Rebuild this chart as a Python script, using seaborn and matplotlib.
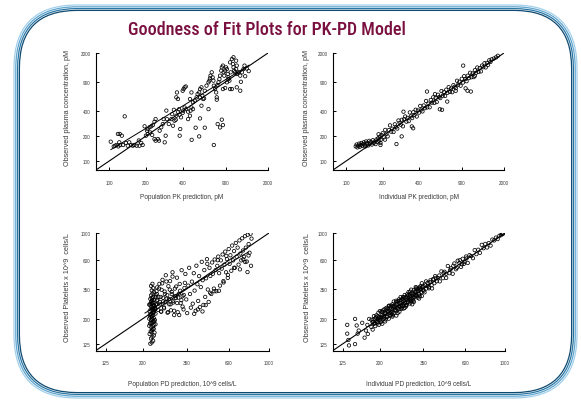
import matplotlib
matplotlib.use("Agg")
import matplotlib.pyplot as plt
from matplotlib.patches import FancyBboxPatch
from matplotlib.ticker import FixedLocator, FixedFormatter, NullLocator
import seaborn as sns
import pandas as pd

sns.set_style("ticks")
plt.rcParams["font.family"] = ["Liberation Sans", "DejaVu Sans"]

title = "Goodness of Fit Plots for PK-PD Model"
pk_ticks = [100, 200, 400, 900, 2000]
pd_ticks = [125, 200, 350, 600, 1000]
pk_limits = [78, 2000]
pd_limits = [110, 1000]

# (prediction, observed)
pk_pop_points = [
    (103,171),(109,150),(112,153),(115,156),(119,150),(121,168),(123,156),(118,212),(122,212),(127,202),
    (134,345),(130,156),(137,165),(142,153),(146,168),(151,156),(156,153),(161,156),(168,153),(177,153),
    (183,165),(188,156),(175,177),
    (195,262),(204,232),(207,243),(214,255),(221,262),(228,271),(235,297),(240,320),(235,184),(240,176),
    (251,184),(256,176),(200,202),(207,211),(217,221),(225,206),(259,232),(267,255),(275,279),(279,320),
    (290,202),(285,168),(294,405),(297,320),(308,279),(323,320),(333,266),(343,306),(355,351),(328,367),
    (339,414),(366,390),(377,362),(373,420),(388,336),(400,380),(415,442),(404,404),(427,422),(443,393),
    (459,351),(464,404),(472,442),(486,422),(378,202),(382,243),(351,314),(359,670),(366,558),(407,737),
    (415,772),(424,790),(443,320),
    (486,510),(503,532),(520,585),(530,641),(546,670),(555,737),(570,772),(580,613),(599,568),(607,702),
    (627,809),(651,887),(662,929),(669,990),(676,1067),(692,1171),(704,1017),(714,929),(720,809),(737,737),
    (752,670),(761,585),(770,825),(786,887),(800,970),(810,1067),(828,1225),(837,1344),(855,1410),(865,1171),
    (875,1067),(891,1225),(907,1344),(921,1283),(937,1118),(948,1017),(966,929),(978,1543),(1012,1691),
    (1032,1474),(1043,1344),(1057,1225),(1075,1171),(1096,1283),(1110,1118),(1146,1171),(1185,1067),
    (1223,1171),(1260,1283),(1284,1410),(1110,1410),(1096,1616),(1043,1776),(989,1171),(921,887),(948,970),
    (1340,1300),(1390,1210),(1200,900),(1300,1050),
    (474,180),(511,252),(546,198),(607,252),(720,156),(774,279),(810,254),(837,315),(855,271),(555,326),
    (570,464),(651,422),(761,548),(855,736),(891,758),(978,736),(1012,736),(1110,772),(1185,703),(400,702),
    (472,670),(459,558),(555,585),(589,558),(355,585),
]
pk_pop_trend_x = [103, 400, 1400]
pk_pop_trend_y = [137, 460, 1430]

pk_ind_points = [
    (120,150),(122,158),(124,146),(126,153),(128,162),(130,149),(132,156),(134,165),(136,152),(138,160),
    (140,168),(142,155),(144,150),(146,172),(148,160),(150,166),(152,154),(155,175),(158,162),(160,170),
    (163,158),(166,178),(169,165),(172,172),(175,160),(178,182),(181,170),(184,188),(187,175),(190,196),
    (193,180),(196,205),(185,210),(192,165),
    (200,216),(205,193),(210,237),(215,213),(220,198),(225,236),(230,269),(235,226),(240,245),(246,224),
    (252,277),(258,258),(264,246),(270,308),(276,287),(282,274),(288,314),(294,262),(300,318),(307,344),
    (314,298),(321,331),(328,302),(335,385),(342,345),(350,329),(358,387),(366,359),(374,415),(382,344),
    (390,406),(399,383),(408,461),(417,417),(426,396),(436,467),(446,433),(456,529),(466,443),(477,491),
    (488,444),(499,544),(510,505),(522,585),(534,502),(546,573),(558,513),(571,628),(584,590),(597,573),
    (611,697),(625,613),(639,677),(654,608),(669,723),(684,663),(700,777),(716,680),(732,747),(749,674),
    (766,820),(784,784),(802,754),(820,927),(839,831),(858,901),(878,808),(898,979),(918,881),(939,1052),
    (961,971),(983,914),(1005,1065),(1028,997),(1052,1157),(1076,1022),(1101,1134),(1126,1025),(1152,1244),
    (1178,1154),(1205,1338),(1233,1184),(1261,1311),(1290,1200),(1320,1412),(1350,1350),(1381,1505),
    (1413,1342),(1445,1517),(1478,1434),(1512,1633),(1547,1562),(1583,1678),(1650,1716),(1720,1772),
    (1780,1850),
    (192,156),(209,181),(287,198),(348,261),(357,248),(464,687),(592,420),(617,414),(681,520),(922,1410),
    (965,750),(1000,703),(1066,687),(297,393),(260,160),(540,640),(800,700),(1150,1060),
]

pd_pop_points = [
    (220,125),(224,128),(228,132),(222,138),(226,142),(230,146),(218,150),(232,154),(221,158),(225,162),
    (229,166),(223,170),(227,174),(231,178),(219,182),(224,186),(228,190),(222,194),(226,198),(230,202),
    (220,206),(224,210),(228,214),(222,218),(226,222),(230,226),(218,230),(232,234),(221,238),(225,242),
    (229,246),(223,250),(227,254),(231,258),(219,262),(224,266),(228,270),(222,275),(226,280),(230,285),
    (220,290),(224,295),(228,300),(222,310),(226,320),(230,330),(224,340),(228,355),(222,370),(226,385),
    (229,165),(221,185),(225,205),(229,225),(233,245),(221,265),(225,285),(233,195),(219,215),(227,235),
    (231,255),(217,175),(223,155),(235,300),(235,240),(217,260),(235,220),(217,200),(235,180),(231,190),
    (236,310),(238,335),(240,360),(236,260),(240,280),
    (237,262),(239,318),(241,285),(243,236),(246,352),(248,274),(251,301),(253,228),(256,388),(259,296),
    (262,247),(264,333),(267,272),(270,402),(273,311),(276,226),(279,289),(282,345),(285,262),(289,318),
    (292,441),(295,279),(298,232),(302,306),(306,366),(310,268),(314,297),(318,214),(322,338),(327,283),
    (332,251),(337,312),(342,392),
    (244,301),(247,385),(249,262),(252,229),(254,344),(257,415),(259,276),(262,243),(265,318),(268,452),
    (271,291),(274,224),(277,368),(280,262),(283,405),(286,234),(289,331),(292,478),(295,271),(298,214),
    (301,352),(305,295),(309,432),(312,226),(316,318),(320,384),(324,268),(328,497),(332,305),(336,238),
    (340,356),(344,463),(348,287),(352,222),(357,372),(361,520),(365,318),(369,246),(374,401),(378,265),
    (383,470),(387,339),(392,232),(396,541),(401,382),(405,279),(410,445),(414,248),(419,362),(424,582),
    (429,412),(433,259),(438,498),(443,301),(448,427),(453,612),(458,346),(463,274),(468,520),(473,446),
    (479,318),(484,575),(489,465),(495,352),(500,608),(506,498),(511,335),(517,540),(523,642),(529,470),
    (535,372),(541,598),(547,512),(553,668),(559,405),(566,552),(572,705),(578,478),(585,612),(591,430),
    (598,740),(605,560),(611,658),(618,492),(625,790),(632,598),(640,712),(647,520),(655,830),(662,640),
    (670,760),(678,552),(686,870),(694,680),(702,598),(710,905),(718,720),(727,640),(736,942),(744,760),
    (753,585),(762,968),(771,812),(780,690),(790,985),(800,900),(795,540),(760,480),(720,610),
    (385,219),(404,238),(428,229),(446,258),(472,325),(498,335),(528,338),(560,395),(592,455),(640,520),
    (690,505),(738,580),(455,560),(520,600),(580,650),(770,655),
]
pd_pop_trend_x = [205, 400, 770]
pd_pop_trend_y = [222, 397, 700]

pd_ind_points = [
    (132,178),(132,151),(134,134),(135,121),(146,199),(149,176),(151,151),(153,160),(146,124),(168,160),
    (171,178),(175,199),(183,188),(196,199),(160,185),(165,140),(172,150),
    (180,171),(180,196),(183,187),(183,163),(186,210),(186,182),(189,200),(189,174),(192,213),(192,192),
    (195,183),(195,209),(198,178),(198,206),(201,231),(201,195),(204,206),(204,190),(207,228),(207,182),
    (210,221),(210,208),(213,239),(213,204),(216,222),(216,197),(219,237),(219,208),(222,242),(222,226),
    (225,200),(225,254),(228,223),(228,242),(231,213),(231,256),(234,234),(234,220),(237,254),(237,213),
    (240,250),(240,276),(244,237),(244,246),(248,231),(248,273),(252,222),(252,265),(256,253),(256,287),
    (260,250),(260,268),(264,240),(264,285),(268,255),(268,292),(272,277),(272,242),(276,312),(276,270),
    (280,297),(280,258),(285,316),(285,285),(290,273),(290,310),(295,266),(295,307),(300,345),(300,291),
    (305,308),(305,284),(310,341),(310,273),(315,331),(315,312),(320,358),(320,307),(326,336),(326,297),
    (332,359),(332,315),(338,368),(338,345),(344,306),(344,389),(350,343),(350,371),
    (185,198),(188,183),(191,205),(194,188),(197,224),(200,203),(203,187),(206,214),(209,234),(212,199),
    (215,220),(218,245),(221,207),(224,231),(227,212),(230,248),(233,227),(236,262),(239,221),(242,255),
    (245,236),(248,262),(251,244),(254,278),(257,239),(260,281),(263,258),(266,246),(269,288),(272,262),
    (275,300),(278,266),(281,252),(284,303),(287,276),(290,296),(293,283),(296,318),(299,279),(302,322),
    (306,296),(310,318),(314,300),(318,336),(322,310),(327,349),(331,320),(336,358),(341,330),(346,362),
    (352,338),(358,378),(364,352),(370,392),(376,362),(383,398),(390,375),(397,420),(404,390),(411,430),
    (205,228),(215,190),(226,255),(236,208),(247,280),(258,228),(270,300),(283,258),(296,332),(309,280),
    (322,350),(335,305),(248,212),(262,300),(276,245),(290,330),(304,262),(318,362),(332,292),
    (356,328),(363,403),(370,370),(377,354),(384,411),(392,353),(400,416),(408,445),(416,404),(424,428),
    (433,403),(442,486),(451,428),(460,483),(470,465),(480,538),(490,470),(500,515),(511,465),(522,564),
    (533,506),(545,594),(557,568),(569,529),(581,616),(594,582),(607,643),(620,570),(634,659),(648,648),
    (663,623),(678,725),(693,672),(709,730),(725,689),(742,801),(759,751),(776,815),(794,762),(812,828),
    (831,789),(850,884),(870,870),(890,917),(910,892),(930,949),(950,960),(965,984),(975,985),
    (430,450),(455,470),(470,430),(495,500),(515,540),(540,520),(560,600),(575,555),(590,560),(610,620),
]

panels = [
    dict(points=pk_pop_points, lim=pk_limits, ticks=pk_ticks,
         xlabel="Population PK prediction, pM", ylabel="Observed plasma concentration, pM",
         trend=(pk_pop_trend_x, pk_pop_trend_y),
         rect=[96/581, 1-171/402, 172/581, 117/402], xl=-0.228, yl=-0.163),
    dict(points=pk_ind_points, lim=pk_limits, ticks=pk_ticks,
         xlabel="Individual PK prediction, pM", ylabel="Observed plasma concentration, pM",
         trend=None,
         rect=[333/581, 1-171/402, 171/581, 117/402], xl=-0.228, yl=-0.154),
    dict(points=pd_pop_points, lim=pd_limits, ticks=pd_ticks,
         xlabel="Population PD prediction, 10^9 cells/L", ylabel="Observed Platelets x 10^9  cells/L",
         trend=(pd_pop_trend_x, pd_pop_trend_y),
         rect=[96/581, 1-351.5/402, 173/581, 117.5/402], xl=-0.282, yl=-0.163),
    dict(points=pd_ind_points, lim=pd_limits, ticks=pd_ticks,
         xlabel="Individual PD prediction, 10^9 cells/L", ylabel="Observed Platelets x 10^9  cells/L",
         trend=None,
         rect=[333/581, 1-351.5/402, 172/581, 117.5/402], xl=-0.282, yl=-0.15),
]

fig = plt.figure(figsize=(5.81, 4.02), dpi=100)
fig.patch.set_facecolor("white")

# slide frame
bg = fig.add_axes([0, 0, 1, 1], zorder=-5)
bg.set_xlim(0, 581)
bg.set_ylim(402, 0)
bg.axis("off")
frame_colors = ["#a3d0ea", "#5fa5cf", "#2a76a3", "#0e4a72"]
for i, c in enumerate(frame_colors):
    off = 1.0 + i * 1.8
    bg.add_patch(FancyBboxPatch((13 + off, 5 + off), 565 - 2 * off, 395 - 2 * off,
                                boxstyle=f"round,pad=0,rounding_size={64 - off}",
                                fill=False, ec=c, lw=0.9))

fig.text(0.459, 0.925, title, ha="center", va="center", fontsize=13, color="#7a1040",
         fontstretch="condensed", fontweight="medium",
         family=["Liberation Sans Narrow", "Roboto Condensed", "DejaVu Sans"])

label_color = "#3a3a3a"
for p in panels:
    ax = fig.add_axes(p["rect"])
    ax.set_facecolor("none")
    df = pd.DataFrame(p["points"], columns=["pred", "obs"])
    sns.scatterplot(data=df, x="pred", y="obs", ax=ax, marker="o", s=6,
                    facecolors="none", edgecolor="black", linewidth=0.55, zorder=3)
    sns.lineplot(x=p["lim"], y=p["lim"], ax=ax, color="black", lw=0.8, zorder=2)
    if p["trend"] is not None:
        sns.lineplot(x=p["trend"][0], y=p["trend"][1], ax=ax, color="black", lw=0.7, zorder=2)
    ax.set_xscale("log")
    ax.set_yscale("log")
    ax.set_xlim(p["lim"])
    ax.set_ylim(p["lim"])
    for axis in (ax.xaxis, ax.yaxis):
        axis.set_major_locator(FixedLocator(p["ticks"]))
        axis.set_major_formatter(FixedFormatter([str(t) for t in p["ticks"]]))
        axis.set_minor_locator(NullLocator())
    sns.despine(ax=ax)
    for s in ("left", "bottom"):
        ax.spines[s].set_linewidth(0.8)
        ax.spines[s].set_color("black")
    ax.tick_params(axis="both", direction="in", length=2.5, width=0.7, labelsize=3.3,
                   labelcolor=label_color, color="black")
    ax.tick_params(axis="x", pad=7)
    ax.tick_params(axis="y", pad=4)
    ax.set_xlabel(p["xlabel"], fontsize=4.7, color=label_color)
    ax.set_ylabel(p["ylabel"], fontsize=5.2, color=label_color)
    ax.xaxis.set_label_coords(0.5, p["xl"])
    ax.xaxis.label.set_va("center")
    ax.yaxis.set_label_coords(p["yl"], 0.54)
    ax.yaxis.label.set_va("center")
    ax.grid(False)

fig.savefig("out.png", dpi=100, facecolor="white")
